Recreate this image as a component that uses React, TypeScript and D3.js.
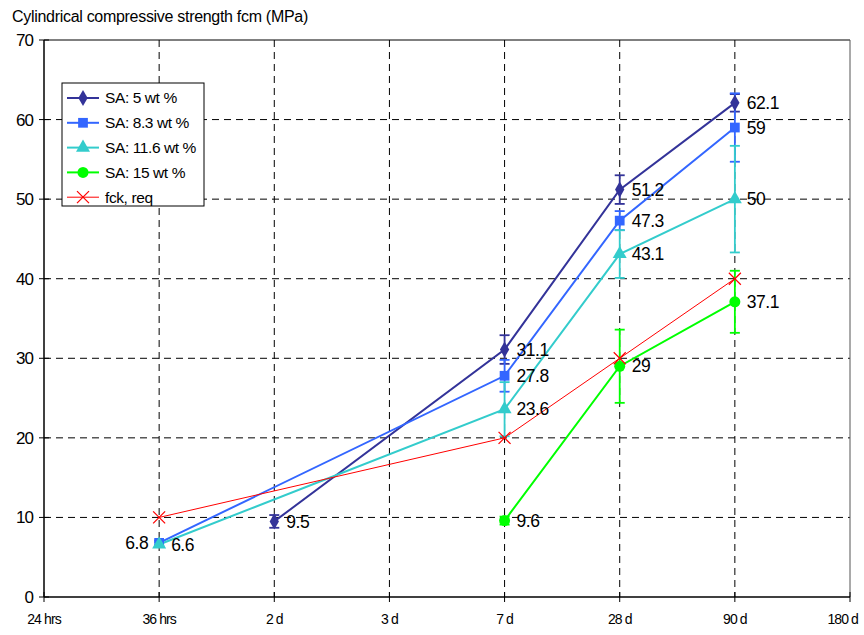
import React from 'react'
import * as d3 from 'd3'

const categories = ['24 hrs', '36 hrs', '2 d', '3 d', '7 d', '28 d', '90 d', '180 d']
const yTicks = [0, 10, 20, 30, 40, 50, 60, 70]

// values per category (null = not measured)
const sa5 = [null, null, 9.5, null, 31.1, 51.2, 62.1, null]
const sa5Err = [null, null, 0.8, null, 1.8, 1.8, 1.1, null]
const sa83 = [null, 6.8, null, null, 27.8, 47.3, 59, null]
const sa83Err = [null, 0.3, null, null, 2.0, 1.2, 4.3, null]
const sa116 = [null, 6.6, null, null, 23.6, 43.1, 50, null]
const sa116Err = [null, 0.3, null, null, 3.4, 3.0, 6.7, null]
const sa15 = [null, null, null, null, 9.6, 29, 37.1, null]
const sa15Err = [null, null, null, null, 0.5, 4.6, 3.9, null]
const fckReq = [null, 10, null, null, 20, 30, 40, null]

const series = [
  { name: 'SA: 5 wt %', values: sa5, err: sa5Err, color: '#333399', marker: 'diamond', width: 2 },
  { name: 'SA: 8.3 wt %', values: sa83, err: sa83Err, color: '#3366FF', marker: 'square', width: 2 },
  { name: 'SA: 11.6 wt %', values: sa116, err: sa116Err, color: '#33CCCC', marker: 'triangle', width: 2 },
  { name: 'SA: 15 wt %', values: sa15, err: sa15Err, color: '#00FF00', marker: 'circle', width: 2 },
  { name: 'fck, req', values: fckReq, err: null, color: '#FF0000', marker: 'cross', width: 1 },
]

const font = 'Arial, "Liberation Sans", sans-serif'

const Marker = ({ type, x, y, color }) => {
  if (type === 'cross') {
    const s = 6
    return (
      <g stroke={color} strokeWidth={1.2}>
        <line x1={x - s} y1={y - s} x2={x + s} y2={y + s} />
        <line x1={x - s} y1={y + s} x2={x + s} y2={y - s} />
      </g>
    )
  }
  const sym = {
    diamond: d3.symbolDiamond,
    square: d3.symbolSquare,
    triangle: d3.symbolTriangle,
    circle: d3.symbolCircle,
  }[type]
  const size = { diamond: 75, square: 95, triangle: 85, circle: 95 }[type]
  return <path d={d3.symbol(sym, size)()} transform={`translate(${x},${y})`} fill={color} />
}

const App = () => {
  const width = 864
  const height = 635
  const left = 44
  const right = 850
  const top = 40
  const bottom = 597

  const x = d3.scalePoint().domain(categories).range([left, right])
  const y = d3.scaleLinear().domain([0, 70]).range([bottom, top])

  const line = d3
    .line()
    .x(d => x(d.cat))
    .y(d => y(d.v))

  const pts = s =>
    s.values
      .map((v, i) => ({ cat: categories[i], v, e: s.err ? s.err[i] : null, i }))
      .filter(d => d.v !== null)

  const labelled = series.slice(0, 4)
  const lastCat = categories[categories.length - 1]

  return (
    <svg width={width} height={height} style={{ position: 'absolute', left: 0, top: 0 }}>
      <rect width={width} height={height} fill="white" />
      {/* grid */}
      {yTicks.slice(1, -1).map(t => (
        <line key={'h' + t} x1={left} x2={right} y1={y(t)} y2={y(t)} stroke="#000" strokeDasharray="7,5" strokeWidth={1} />
      ))}
      {categories.slice(1, -1).map(c => (
        <line key={'v' + c} x1={x(c)} x2={x(c)} y1={top} y2={bottom} stroke="#000" strokeDasharray="7,5" strokeWidth={1} />
      ))}
      {/* frame */}
      <line x1={left} x2={right} y1={top} y2={top} stroke="#000" />
      <line x1={right} x2={right} y1={top} y2={bottom} stroke="#555" />
      <line x1={left} x2={left} y1={top} y2={bottom} stroke="#000" strokeWidth={1.5} />
      <line x1={left} x2={right} y1={bottom} y2={bottom} stroke="#000" strokeWidth={1.5} />
      {/* y axis */}
      {yTicks.map(t => (
        <g key={'yt' + t}>
          <line x1={left - 5} x2={left + 5} y1={y(t)} y2={y(t)} stroke="#000" />
          <text x={left - 11} y={y(t)} dy="0.35em" textAnchor="end" fontFamily={font} fontSize={17} letterSpacing={-1}>
            {t}
          </text>
        </g>
      ))}
      {/* x axis */}
      {categories.map(c => (
        <g key={'xt' + c}>
          <line x1={x(c)} x2={x(c)} y1={bottom - 5} y2={bottom + 5} stroke="#000" />
          <text
            x={c === lastCat ? width - 6 : x(c)}
            y={bottom + 27}
            textAnchor={c === lastCat ? 'end' : 'middle'}
            fontFamily={font}
            fontSize={14}
            letterSpacing={-0.9}
          >
            {c}
          </text>
        </g>
      ))}
      <text x={12} y={22} fontFamily={font} fontSize={16} letterSpacing={-0.3}>
        Cylindrical compressive strength fcm (MPa)
      </text>
      {/* series lines */}
      {series.map(s => (
        <path key={'l' + s.name} d={line(pts(s))} fill="none" stroke={s.color} strokeWidth={s.width} />
      ))}
      {/* error bars */}
      {series.map(s =>
        pts(s)
          .filter(d => d.e)
          .map(d => (
            <g key={'e' + s.name + d.i} stroke={s.color} strokeWidth={1.8}>
              <line x1={x(d.cat)} x2={x(d.cat)} y1={y(d.v - d.e)} y2={y(d.v + d.e)} />
              <line x1={x(d.cat) - 5} x2={x(d.cat) + 5} y1={y(d.v - d.e)} y2={y(d.v - d.e)} />
              <line x1={x(d.cat) - 5} x2={x(d.cat) + 5} y1={y(d.v + d.e)} y2={y(d.v + d.e)} />
            </g>
          ))
      )}
      {/* markers */}
      {series.map(s =>
        pts(s).map(d => <Marker key={'m' + s.name + d.i} type={s.marker} x={x(d.cat)} y={y(d.v)} color={s.color} />)
      )}
      {/* value labels */}
      {labelled.map(s =>
        pts(s).map(d => {
          const toLeft = s.name === 'SA: 8.3 wt %' && d.cat === '36 hrs'
          return (
            <text
              key={'t' + s.name + d.i}
              x={x(d.cat) + (toLeft ? -11 : 12)}
              y={y(d.v)}
              dy="0.35em"
              textAnchor={toLeft ? 'end' : 'start'}
              fontFamily={font}
              fontSize={17.5}
              letterSpacing={-0.5}
            >
              {d.v}
            </text>
          )
        })
      )}
      {/* legend */}
      <g transform="translate(62,83)">
        <rect width={142} height={123} fill="white" stroke="#000" strokeWidth={1} />
        {series.map((s, i) => (
          <g key={'lg' + s.name} transform={`translate(0,${15 + i * 24.8})`}>
            <line x1={5} x2={37} y1={0} y2={0} stroke={s.color} strokeWidth={s.width} />
            <Marker type={s.marker} x={21} y={0} color={s.color} />
            <text x={43} y={0} dy="0.35em" fontFamily={font} fontSize={15.5} letterSpacing={-0.4}>
              {s.name}
            </text>
          </g>
        ))}
      </g>
    </svg>
  )
}

export default App
